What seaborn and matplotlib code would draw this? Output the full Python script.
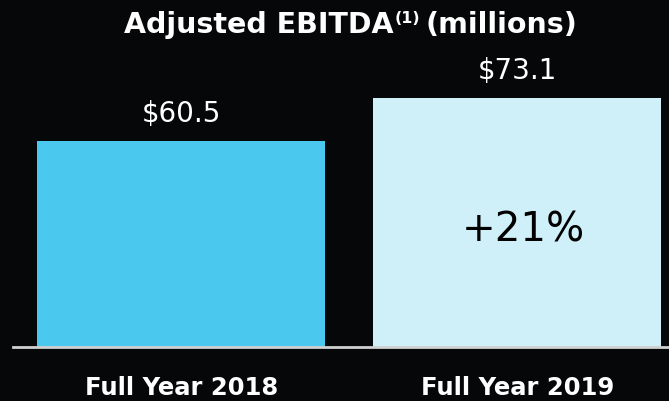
import matplotlib
matplotlib.use('Agg')
import matplotlib.pyplot as plt
import seaborn as sns
import pandas as pd

# data
periods = ['Full Year 2018', 'Full Year 2019']
ebitda = [60.5, 73.1]
value_labels = ['$60.5', '$73.1']
growth_label = '+21%'
bar_colors = ['#4BC8ED', '#D0F0F9']

df = pd.DataFrame({'period': periods, 'ebitda': ebitda})

sns.set_style('dark')
plt.rcParams['font.family'] = ['DejaVu Sans']

bg = '#060709'
fig = plt.figure(figsize=(6.69, 4.01), dpi=100, facecolor=bg)
ax = fig.add_axes([13 / 669, 54 / 401, 656 / 669, 347 / 401])
ax.set_facecolor(bg)

sns.barplot(data=df, x='period', y='ebitda', hue='period', palette=bar_colors,
            legend=False, width=0.857, saturation=1, linewidth=0, ax=ax)

ax.set_ylim(0, 101.9)
ax.set_xlim(-0.501, 1.451)
ax.grid(False)
for side in ['top', 'left', 'right']:
    ax.spines[side].set_visible(False)
ax.spines['bottom'].set_color('#d0d0d0')
ax.spines['bottom'].set_linewidth(2)
ax.set_yticks([])
ax.set_xlabel('')
ax.set_ylabel('')
ax.tick_params(axis='x', length=0, pad=34.5, colors='white')
for lbl in ax.get_xticklabels():
    lbl.set_fontsize(17.5)
    lbl.set_fontweight('bold')
    lbl.set_color('white')
    lbl.set_verticalalignment('baseline')

# value labels above bars
for i, (v, s) in enumerate(zip(ebitda, value_labels)):
    ax.annotate(s, xy=(i, v), xytext=(0, 13.7), textcoords='offset points',
                ha='center', va='baseline', color='white', fontsize=20)

# growth label inside the 2019 bar
ax.annotate(growth_label, xy=(1, ebitda[1] * 0.47), xytext=(4, 0),
            textcoords='offset points', ha='center', va='center',
            color='black', fontsize=29)

# title with superscript, centred as a whole
W, H = fig.bbox.width, fig.bbox.height
y_base = 1 - 33 / 401
t1 = fig.text(0, y_base, 'Adjusted EBITDA', color='white',
              fontsize=20.5, fontweight='bold', ha='left', va='baseline')
t2 = fig.text(0, 0, '(1)', color='white', fontsize=11.5, fontweight='bold',
              va='baseline')
t3 = fig.text(0, y_base, '(millions)', color='white',
              fontsize=20.5, fontweight='bold', ha='left', va='baseline')
fig.canvas.draw()
r = fig.canvas.get_renderer()
w1 = t1.get_window_extent(r).width
w2 = t2.get_window_extent(r).width
w3 = t3.get_window_extent(r).width
total = w1 + 1 + w2 + 5 + w3
x0 = 351 - total / 2
t1.set_position((x0 / W, y_base))
t2.set_position(((x0 + w1 + 1) / W, y_base + 10 / H))
t3.set_position(((x0 + w1 + 1 + w2 + 5) / W, y_base))

fig.savefig('out.png', dpi=100, facecolor=bg)
